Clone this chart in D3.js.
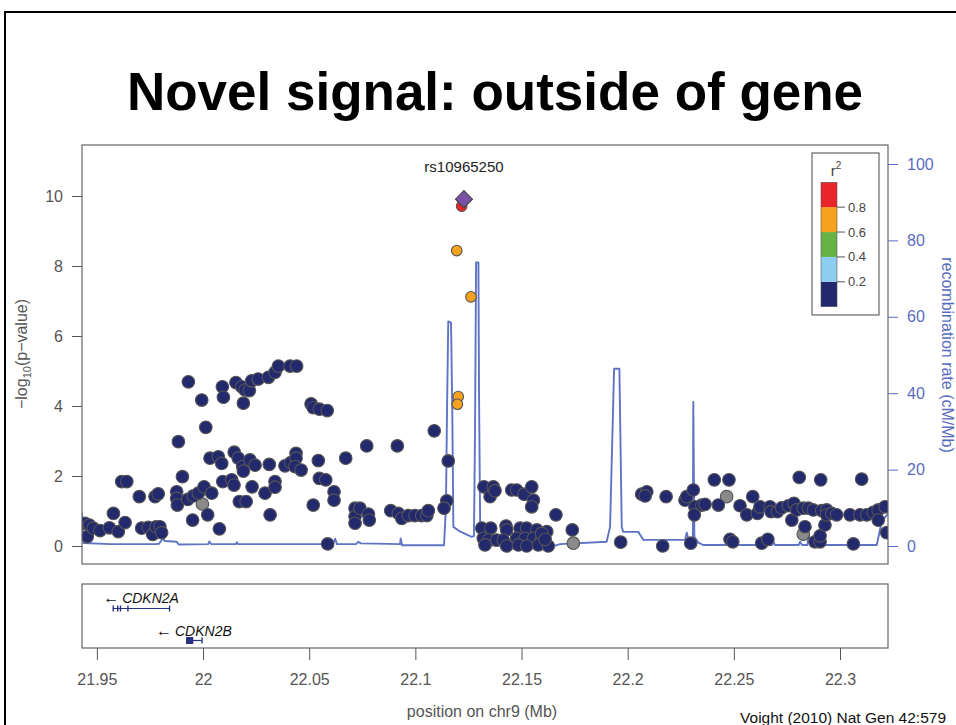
<!DOCTYPE html>
<html>
<head>
<meta charset="utf-8">
<script src="https://cdn.jsdelivr.net/npm/d3@7"></script>
<style>
  html, body { margin: 0; padding: 0; background: #fff; }
  svg { display: block; }
  text { font-family: "Liberation Sans", Arial, Helvetica, sans-serif; }
</style>
</head>
<body>
<script>
// ---------------- DATA ----------------
const titleText = "Novel signal: outside of gene";
const indexSnpName = "rs10965250";
const xTicks = [21.95, 22, 22.05, 22.1, 22.15, 22.2, 22.25, 22.3];
const xTickLabels = ["21.95", "22", "22.05", "22.1", "22.15", "22.2", "22.25", "22.3"];
const yTicks = [0, 2, 4, 6, 8, 10];
const recTicks = [0, 20, 40, 60, 80, 100];
const r2Breaks = [0.2, 0.4, 0.6, 0.8];
const r2Colors = ["#23296d", "#8ccdf0", "#66b245", "#f6a21e", "#e8262a"];
const noLDColor = "#8a8a8a";

// index SNP [position Mb, -log10 p]
const indexSnp = [22.1229, 9.91];
// r2 >= 0.8
const highLD = [[22.1218, 9.71]];
// 0.6 <= r2 < 0.8
const midLD = [[22.1195, 8.44], [22.1262, 7.12], [22.1202, 4.27], [22.1198, 4.05]];
// no LD information
const noLD = [[21.9997, 1.20], [22.1744, 0.08], [22.2466, 1.41], [22.2827, 0.34]];
// r2 < 0.2
const lowLD = [
[21.9444,0.65],[21.9465,0.60],[21.9455,0.27],[21.9483,0.51],[21.9515,0.44],[21.9559,0.52],
[21.9578,0.93],[21.9601,0.41],[21.9633,0.67],[21.9617,1.84],[21.9641,1.84],[21.9700,1.41],
[21.9711,0.51],[21.9742,0.53],[21.9763,0.33],[21.9779,0.55],[21.9797,0.55],[21.9805,0.38],
[21.9774,1.41],[21.9789,1.49],[21.9884,2.98],[21.9876,1.55],[21.9876,1.36],[21.9879,1.17],
[21.9903,1.98],[21.9928,1.33],[21.9954,1.43],[21.9978,1.51],[21.9951,0.74],[21.9931,4.69],
[21.9994,4.17],[22.0013,3.39],[22.0005,1.69],[22.0022,0.89],[22.0041,1.51],[22.0033,2.51],
[22.0072,2.55],[22.0088,2.36],[22.0091,4.55],[22.0096,4.25],[22.0077,0.49],[22.0093,1.84],
[22.0135,1.89],[22.0146,1.74],[22.0147,2.68],[22.0166,2.51],[22.0155,4.67],[22.0182,4.55],
[22.0198,4.46],[22.0218,4.44],[22.0190,4.08],[22.0229,4.72],[22.0260,4.77],[22.0308,4.82],
[22.0339,4.96],[22.0355,5.14],[22.0410,5.14],[22.0441,5.14],[22.0187,2.27],[22.0190,2.14],
[22.0221,2.46],[22.0245,2.31],[22.0171,1.27],[22.0203,1.27],[22.0231,1.69],[22.0292,1.51],
[22.0312,2.33],[22.0316,0.89],[22.0339,1.84],[22.0339,1.68],[22.0386,2.29],[22.0413,2.38],
[22.0438,2.65],[22.0438,2.51],[22.0433,2.27],[22.0462,2.17],[22.0509,4.06],[22.0519,3.95],
[22.0548,3.91],[22.0585,3.87],[22.0543,2.44],[22.0548,1.93],[22.0578,1.89],[22.0519,1.17],
[22.0617,1.55],[22.0617,1.31],[22.0587,0.06],[22.0672,2.51],[22.0716,1.08],[22.0716,0.84],
[22.0716,0.65],[22.1089,3.29],[22.0771,2.86],[22.0915,2.86],[22.1155,2.43],[22.1148,1.29],
[22.1135,1.08],[22.0739,1.08],[22.0779,0.91],[22.0783,0.74],[22.0884,1.01],[22.0920,0.93],
[22.0936,0.79],[22.0967,0.87],[22.0998,0.87],[22.1030,0.87],[22.1054,0.87],[22.1061,1.01],
[22.1323,1.69],[22.1352,1.41],[22.1367,1.69],[22.1375,1.58],[22.1454,1.60],[22.1477,1.60],
[22.1512,1.48],[22.1548,1.69],[22.1556,1.31],[22.1548,1.12],[22.1662,0.89],[22.1313,0.51],
[22.1355,0.51],[22.1427,0.57],[22.1430,0.46],[22.1493,0.51],[22.1524,0.51],[22.1572,0.46],
[22.1619,0.41],[22.1320,0.22],[22.1344,0.17],[22.1383,0.17],[22.1414,0.17],[22.1477,0.22],
[22.1517,0.22],[22.1556,0.22],[22.1595,0.22],[22.1328,0.03],[22.1430,0.00],[22.1485,0.03],
[22.1524,0.00],[22.1579,0.03],[22.1626,0.00],[22.1595,0.36],[22.1611,0.19],[22.1739,0.46],
[22.1967,0.11],[22.2066,1.48],[22.2090,1.55],[22.2082,1.43],[22.2181,1.41],[22.2165,0.00],
[22.2270,1.31],[22.2278,1.41],[22.2309,1.60],[22.2297,0.08],[22.2317,1.12],[22.2314,0.89],
[22.2349,1.17],[22.2364,1.19],[22.2408,1.89],[22.2477,1.89],[22.2427,1.17],[22.2482,0.19],
[22.2495,0.12],[22.2529,1.15],[22.2561,0.89],[22.2589,1.41],[22.2611,0.93],[22.2623,1.12],
[22.2631,0.08],[22.2660,0.19],[22.2670,1.12],[22.2675,0.98],[22.2705,0.98],[22.2725,1.09],
[22.2757,1.15],[22.2773,0.74],[22.2783,1.22],[22.2796,1.03],[22.2827,1.08],[22.2835,0.55],
[22.2851,1.08],[22.2874,1.03],[22.2882,0.12],[22.2906,0.12],[22.2906,0.29],[22.2914,1.01],
[22.2937,1.03],[22.2929,0.60],[22.2937,0.89],[22.2961,0.93],[22.2984,0.89],[22.3047,0.89],
[22.3063,0.06],[22.3094,0.89],[22.3126,0.89],[22.3157,0.96],[22.3180,1.03],[22.3180,0.74],
[22.3212,1.12],[22.3220,0.38],[22.2808,1.96],[22.2909,1.89],[22.3102,1.91]
];
const lowLDr2 = 0.05, midLDr2 = 0.7, highLDr2 = 0.9;

// recombination rate [position Mb, cM/Mb]
const recombPos = [21.9430,21.9437,21.9562,21.9774,21.9793,21.9810,21.9821,21.9876,21.9885,22.0024,
  22.0030,22.0038,22.0155,22.0159,22.0165,22.0612,22.0622,22.0631,22.0721,22.0731,22.0744,22.0928,
  22.0931,22.0937,22.1135,22.1144,22.1149,22.1155,22.1168,22.1174,22.1179,22.1210,22.1265,22.1276,
  22.1281,22.1286,22.1297,22.1300,22.1306,22.1309,22.1658,22.1681,22.1901,22.1917,22.1936,22.1961,
  22.1972,22.1979,22.2050,22.2074,22.2270,22.2278,22.2287,22.2307,22.2309,22.2314,22.2333,22.2356,
  22.2680,22.2686,22.2694,22.2805,22.2812,22.2821,22.2847,22.2851,22.2859,22.3173,22.3196,22.3226];
const recombRate = [8.6,0.8,0.5,0.5,0.6,1.9,1.3,1.1,0.4,0.5,
  1.2,0.5,0.5,1.0,0.5,0.5,1.9,0.5,0.5,1.1,0.7,0.5,
  2.0,0.2,0.2,10,35,58.8,58.5,35,5.0,3.8,2.4,2.6,
  30,74.2,74.2,39,0.5,0.1,0.1,0.5,1.1,5,46.4,46.4,
  5.0,3.7,3.7,1.6,1.6,3.5,1.6,1.6,37.7,2.4,0.9,0.26,
  0.26,1.1,0.26,0.26,1.1,0.26,0.26,3.7,0.26,0.26,6.3,8.5];

// genes
const geneNames = ["CDKN2A", "CDKN2B"];
const geneStarts = [21.9575, 21.9920];
const geneEnds = [21.9841, 21.9994];
const geneRows = [0, 1];
const geneExons = [
  [[21.9574,21.9577],[21.9595,21.9598],[21.9608,21.9611],[21.9643,21.9648],[21.9839,21.9842]],
  [[21.9920,21.9954],[21.9992,21.9995]]
];

const creditText = "Voight (2010) Nat Gen 42:579";

// ---------------- LAYOUT ----------------
const W = 956, H = 725;
const P = {left: 82, right: 888, top: 145, bottom: 564};
const G = {top: 584, bottom: 648};

const svg = d3.select("body").append("svg").attr("width", W).attr("height", H);
svg.append("rect").attr("width", W).attr("height", H).attr("fill", "#fff");

// slide frame
svg.append("path").attr("d", `M5,${H} L5,12 L${W},12`).attr("fill", "none")
  .attr("stroke", "#000").attr("stroke-width", 2);

svg.append("text").attr("x", 495).attr("y", 110).attr("text-anchor", "middle")
  .attr("font-size", 53).attr("font-weight", "bold").attr("fill", "#000").text(titleText);

const x = d3.scaleLinear().domain([21.943, 22.3226]).range([P.left, P.right]);
const y = d3.scaleLinear().domain([0, 10]).range([546, 196]);
const yr = d3.scaleLinear().domain([0, 100]).range([546, 164]);

const axisGray = "#555";
const recBlue = "#5a6cc0";

// clip
svg.append("clipPath").attr("id", "plotclip").append("rect")
  .attr("x", P.left).attr("y", P.top).attr("width", P.right - P.left).attr("height", P.bottom - P.top);

// recombination line
const recData = recombPos.map((p, i) => [p, recombRate[i]]);
svg.append("path").datum(recData)
  .attr("clip-path", "url(#plotclip)")
  .attr("fill", "none").attr("stroke", "#5f74c6").attr("stroke-width", 1.9)
  .attr("stroke-linejoin", "round")
  .attr("d", d3.line().x(d => x(d[0])).y(d => yr(d[1])));

// points
function colorFor(r2) {
  if (r2 == null) return noLDColor;
  return r2Colors[d3.bisectRight(r2Breaks, r2)];
}
const pts = [].concat(
  noLD.map(d => ({p: d[0], v: d[1], r2: null})),
  lowLD.map(d => ({p: d[0], v: d[1], r2: lowLDr2})),
  midLD.map(d => ({p: d[0], v: d[1], r2: midLDr2})),
  highLD.map(d => ({p: d[0], v: d[1], r2: highLDr2}))
);
const gp = svg.append("g").attr("clip-path", "url(#plotclip)");
gp.selectAll("circle.snp").data(pts).join("circle").attr("class", "snp")
  .attr("cx", d => x(d.p)).attr("cy", d => y(d.v))
  .attr("r", d => d.r2 != null && d.r2 >= 0.6 ? 5.3 : 6.3)
  .attr("fill", d => colorFor(d.r2))
  .attr("stroke", "#555").attr("stroke-width", 1.1);

// index SNP diamond
const dsz = 8.5;
gp.append("path")
  .attr("d", `M0,${-dsz} L${dsz},0 L0,${dsz} L${-dsz},0 Z`)
  .attr("transform", `translate(${x(indexSnp[0])},${y(indexSnp[1])})`)
  .attr("fill", "#7a4fa6").attr("stroke", "#444").attr("stroke-width", 1.1);
svg.append("text").attr("x", x(indexSnp[0])).attr("y", 172).attr("text-anchor", "middle")
  .attr("font-size", 15).attr("fill", "#222").text(indexSnpName);

// plot frame
svg.append("rect").attr("x", P.left).attr("y", P.top).attr("width", P.right - P.left)
  .attr("height", P.bottom - P.top).attr("fill", "none").attr("stroke", "#666").attr("stroke-width", 1.2);

// left axis
const gl = svg.append("g").attr("transform", `translate(${P.left},0)`)
  .call(d3.axisLeft(y).tickValues(yTicks).tickSize(10).tickPadding(9).tickFormat(d3.format("d")));
gl.select(".domain").remove();
gl.selectAll("line").attr("stroke", axisGray);
gl.selectAll("text").attr("font-size", 16).attr("fill", axisGray)
  .attr("font-family", "Liberation Sans, Arial, sans-serif");

// right axis
const gr = svg.append("g").attr("transform", `translate(${P.right},0)`)
  .call(d3.axisRight(yr).tickValues(recTicks).tickSize(10).tickPadding(9));
gr.select(".domain").remove();
gr.selectAll("line").attr("stroke", recBlue);
gr.selectAll("text").attr("font-size", 16).attr("fill", recBlue)
  .attr("font-family", "Liberation Sans, Arial, sans-serif");

// axis titles
const yl = svg.append("text").attr("transform", "translate(27,354) rotate(-90)")
  .attr("text-anchor", "middle").attr("font-size", 16).attr("fill", axisGray);
yl.append("tspan").text("\u2212log");
yl.append("tspan").attr("font-size", 11).attr("dy", 4).text("10");
yl.append("tspan").attr("dy", -4).text("(p\u2212value)");

svg.append("text").attr("transform", "translate(942,355) rotate(90)")
  .attr("text-anchor", "middle").attr("font-size", 16).attr("fill", recBlue)
  .text("recombination rate (cM/Mb)");

// legend
const L = {x: 812, y: 153, w: 67, h: 162};
svg.append("rect").attr("x", L.x).attr("y", L.y).attr("width", L.w).attr("height", L.h)
  .attr("fill", "#fff").attr("stroke", "#666").attr("stroke-width", 1.2);
const ly = d3.scaleLinear().domain([0, 1]).range([306.7, 182.3]);
const bins = [0].concat(r2Breaks).concat([1]);
svg.selectAll("rect.lg").data(r2Colors).join("rect").attr("class", "lg")
  .attr("x", 821).attr("width", 16)
  .attr("y", (d, i) => ly(bins[i + 1])).attr("height", (d, i) => ly(bins[i]) - ly(bins[i + 1]))
  .attr("fill", d => d).attr("stroke", "none");
svg.append("rect").attr("x", 821).attr("y", ly(1)).attr("width", 16).attr("height", ly(0) - ly(1))
  .attr("fill", "none").attr("stroke", "#555").attr("stroke-width", 0.6);
const lt = svg.append("g");
lt.selectAll("line").data(r2Breaks).join("line")
  .attr("x1", 837).attr("x2", 845).attr("y1", d => ly(d)).attr("y2", d => ly(d))
  .attr("stroke", "#555");
lt.selectAll("text").data(r2Breaks).join("text")
  .attr("x", 848).attr("y", d => ly(d)).attr("dy", "0.35em")
  .attr("font-size", 13).attr("fill", "#444").text(d => d.toFixed(1));
const r2t = svg.append("text").attr("x", 836).attr("y", 176).attr("text-anchor", "middle")
  .attr("font-size", 15).attr("fill", "#444");
r2t.append("tspan").text("r");
r2t.append("tspan").attr("font-size", 10).attr("dy", -7).text("2");

// gene panel
svg.append("rect").attr("x", P.left).attr("y", G.top).attr("width", P.right - P.left)
  .attr("height", G.bottom - G.top).attr("fill", "none").attr("stroke", "#666").attr("stroke-width", 1.2);
const geneBlue = "#2a3182";
const rowLine = [608.5, 640.5];
const rowLabel = [603, 635.5];
geneNames.forEach((name, i) => {
  const r = geneRows[i];
  const gy = rowLine[r];
  svg.append("line").attr("x1", x(geneStarts[i])).attr("x2", x(geneEnds[i]))
    .attr("y1", gy).attr("y2", gy).attr("stroke", geneBlue).attr("stroke-width", 1.2);
  geneExons[i].forEach(e => {
    const big = (e[1] - e[0]) > 0.001;
    const h = big ? 7 : 6;
    svg.append("rect").attr("x", x(e[0])).attr("width", Math.max(1.4, x(e[1]) - x(e[0])))
      .attr("y", gy - h / 2).attr("height", h).attr("fill", geneBlue);
  });
  const cx = (x(geneStarts[i]) + x(geneEnds[i])) / 2;
  const t = svg.append("text").attr("x", cx).attr("y", rowLabel[r]).attr("text-anchor", "middle")
    .attr("font-size", 14).attr("fill", "#111");
  t.append("tspan").attr("font-size", 16).text("\u2190");
  t.append("tspan").attr("font-style", "italic").attr("dx", 3).text(name);
});

// bottom x axis
const gx = svg.append("g").attr("transform", `translate(0,${G.bottom})`)
  .call(d3.axisBottom(x).tickValues(xTicks).tickSize(12).tickPadding(14)
    .tickFormat((d, i) => xTickLabels[i]));
gx.select(".domain").remove();
gx.selectAll("line").attr("stroke", axisGray);
gx.selectAll("text").attr("font-size", 16).attr("fill", axisGray)
  .attr("font-family", "Liberation Sans, Arial, sans-serif");

svg.append("text").attr("x", 482).attr("y", 717).attr("text-anchor", "middle")
  .attr("font-size", 16).attr("fill", axisGray).text("position on chr9 (Mb)");

svg.append("text").attr("x", 946).attr("y", 723).attr("text-anchor", "end")
  .attr("font-size", 15.5).attr("fill", "#111").text(creditText);
</script>
</body>
</html>
